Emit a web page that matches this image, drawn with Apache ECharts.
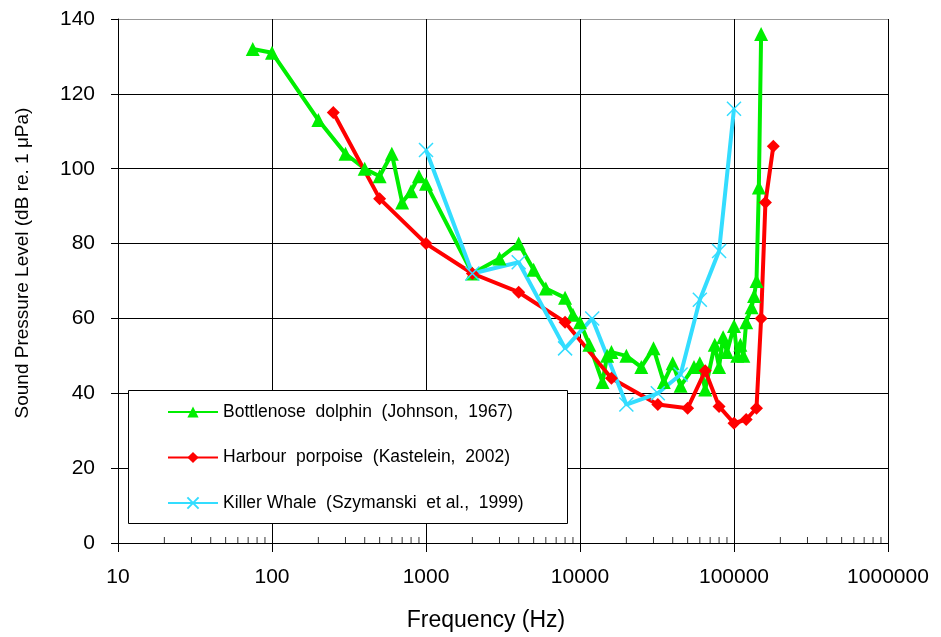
<!DOCTYPE html>
<html>
<head>
<meta charset="utf-8">
<script src="https://cdn.jsdelivr.net/npm/echarts@6/dist/echarts.min.js"></script>
<style>
  html, body { margin: 0; padding: 0; background: #fff; }
  #chart { width: 941px; height: 637px; }
</style>
</head>
<body>
<div id="chart"></div>
<script>
// frequency (Hz), sound pressure level (dB re 1 µPa)
const dolphinFreq = [75, 100, 200, 300, 400, 500, 600, 700, 800, 900, 1000, 2000, 3000, 4000, 5000, 6000, 8000, 9000, 10000, 11500, 14000, 15000, 16000, 20000, 25000, 30000, 35000, 40000, 45000, 55000, 60000, 65000, 75000, 80000, 85000, 90000, 100000, 105000, 110000, 115000, 120000, 130000, 135000, 140000, 145000, 150000];
const dolphinSpl = [132, 131, 113, 104, 100, 98, 104, 91, 94, 98, 96, 72, 76, 80, 73, 68, 65.5, 61, 59, 53, 43, 50, 51, 50, 47, 52, 43, 48, 42, 47, 48, 41, 53, 47, 55, 51, 58, 50, 53, 50, 59, 63, 66, 70, 95, 136];

const porpoiseFreq = [250, 500, 1000, 2000, 4000, 8000, 16000, 32000, 50000, 65000, 80000, 100000, 120000, 140000, 150000, 160000, 180000];
const porpoiseSpl = [115, 92, 80, 72, 67, 59, 44, 37, 36, 46, 36.5, 32, 33, 36, 60, 91, 106];

const whaleFreq = [1000, 2000, 4000, 8000, 12000, 20000, 32000, 45000, 60000, 80000, 100000];
const whaleSpl = [105, 72, 75, 52, 60, 37, 40, 45, 65, 78, 116];

const seriesNames = [
  'Bottlenose  dolphin  (Johnson,  1967)',
  'Harbour  porpoise  (Kastelein,  2002)',
  'Killer Whale  (Szymanski  et al.,  1999)'
];

// log-axis minor tick positions (2..9 in each decade)
const decades = [10, 100, 1000, 10000, 100000];
const minorTicks = [];
decades.forEach(d => { for (let k = 2; k <= 9; k++) minorTicks.push([d * k, 0]); });

const pair = (xs, ys) => xs.map((x, i) => [x, ys[i]]);

const font = "'Liberation Sans', Arial, sans-serif";
const crossPath = 'path://M0,0L10,10M10,0L0,10';

const chart = echarts.init(document.getElementById('chart'));
chart.setOption({
  animation: false,
  textStyle: { fontFamily: font, color: '#000' },
  grid: { left: 118, right: 53, top: 19, bottom: 94 },
  xAxis: {
    type: 'log',
    logBase: 10,
    min: 10,
    max: 1000000,
    name: 'Frequency (Hz)',
    nameLocation: 'middle',
    nameGap: 66,
    nameTextStyle: { fontSize: 23, color: '#000', fontFamily: font, padding: [0, 34, 0, 0] },
    axisLine: { lineStyle: { color: '#000', width: 1 } },
    axisTick: { show: true, length: 9, lineStyle: { color: '#000' } },
    axisLabel: {
      fontSize: 21, color: '#000', margin: 24, fontFamily: font,
      formatter: v => String(Math.round(v))
    },
    splitLine: { show: true, lineStyle: { color: '#000', width: 1 } },
    minorTick: { show: false }
  },
  yAxis: {
    type: 'value',
    min: 0,
    max: 140,
    interval: 20,
    name: 'Sound Pressure Level (dB re. 1 \u03bcPa)',
    nameLocation: 'middle',
    nameGap: 86,
    nameTextStyle: { fontSize: 19, color: '#000', fontFamily: font, padding: [0, 0, 0, 36] },
    axisLine: { show: true, lineStyle: { color: '#000', width: 1 } },
    axisTick: { show: true, length: 7, lineStyle: { color: '#000' } },
    axisLabel: { fontSize: 21, color: '#000', margin: 23, fontFamily: font },
    splitLine: {
      show: true,
      lineStyle: { color: ['#000', '#000', '#000', '#000', '#000', '#000', '#000', '#999'], width: 1 }
    }
  },
  legend: {
    data: seriesNames,
    orient: 'vertical',
    left: 167,
    top: 403,
    padding: 0,
    itemWidth: 50,
    itemHeight: 14,
    itemGap: 27.5,
    z: 10,
    textStyle: { fontSize: 17.5, color: '#000', fontFamily: font }
  },
  graphic: [{
    type: 'rect',
    left: 128,
    top: 390,
    z: 9,
    shape: { width: 439, height: 133 },
    style: { fill: '#fff', stroke: '#000', lineWidth: 1 }
  }],
  series: [
    {
      name: seriesNames[0],
      type: 'line',
      data: pair(dolphinFreq, dolphinSpl),
      color: '#00ee00',
      symbol: 'triangle',
      symbolSize: 14,
      lineStyle: { width: 4, color: '#00ee00' },
      itemStyle: { color: '#00ee00' }
    },
    {
      name: seriesNames[1],
      type: 'line',
      data: pair(porpoiseFreq, porpoiseSpl),
      color: '#ff0000',
      symbol: 'diamond',
      symbolSize: 13,
      lineStyle: { width: 4, color: '#ff0000' },
      itemStyle: { color: '#ff0000' }
    },
    {
      name: seriesNames[2],
      type: 'line',
      data: pair(whaleFreq, whaleSpl),
      color: '#33ddff',
      symbol: crossPath,
      symbolSize: 14,
      lineStyle: { width: 4, color: '#33ddff' },
      itemStyle: { color: '#33ddff', borderColor: '#33ddff', borderWidth: 1.5 }
    },
    {
      name: 'minor',
      type: 'scatter',
      data: minorTicks,
      symbol: 'rect',
      symbolSize: [1, 6],
      symbolOffset: [0, -3],
      itemStyle: { color: '#000' },
      silent: true,
      z: 1
    }
  ]
});
</script>
</body>
</html>
